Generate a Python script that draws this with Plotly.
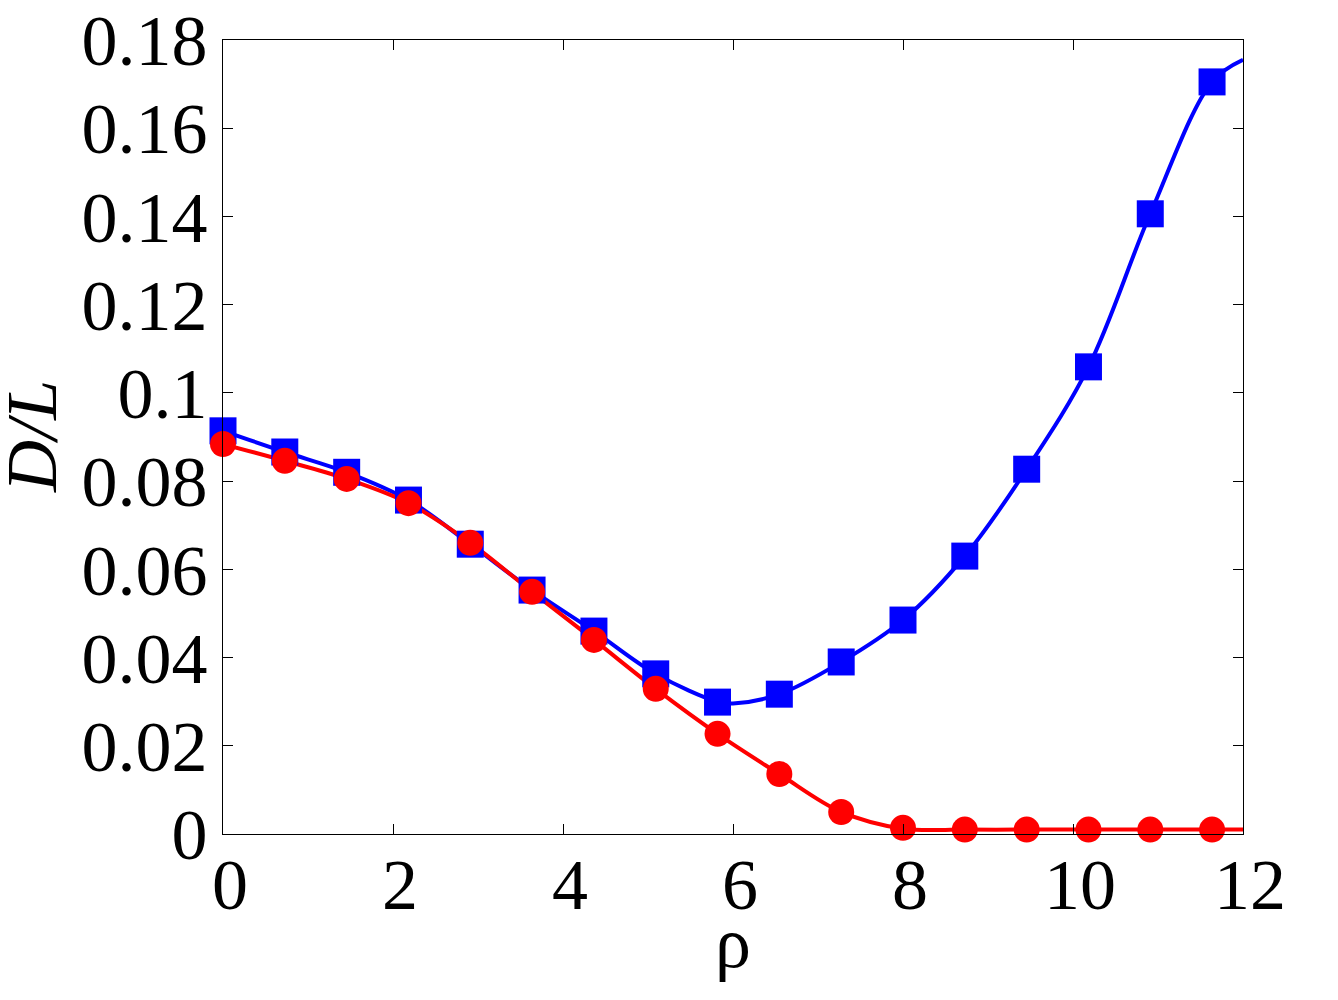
import plotly.graph_objects as go

# marker data
rho_pts = [0.0, 0.727, 1.455, 2.182, 2.909, 3.636, 4.364, 5.091, 5.818, 6.545,
           7.273, 8.0, 8.727, 9.455, 10.182, 10.909, 11.636]
blue_vals = [0.0914, 0.0866, 0.0820, 0.0757, 0.0657, 0.0553, 0.0460, 0.0363, 0.0299,
             0.0317, 0.0390, 0.0485, 0.0630, 0.0827, 0.1059, 0.1406, 0.1705]
red_vals = [0.0884, 0.0846, 0.0805, 0.0750, 0.0660, 0.0549, 0.0440, 0.0329, 0.0227,
            0.0136, 0.0050, 0.0014, 0.0010, 0.0010, 0.0010, 0.0010, 0.0010]

# smooth fit curves (extend to rho = 12)
blue_fit_x = [0.0, 0.727, 1.455, 2.182, 2.909, 3.636, 4.364, 5.091, 5.818, 6.0, 6.545,
              7.273, 8.0, 8.727, 9.455, 10.182, 10.909, 11.636, 12.0]
blue_fit_y = [0.0914, 0.0866, 0.0820, 0.0757, 0.0657, 0.0553, 0.0460, 0.0363, 0.0300, 0.0296,
              0.0317, 0.0390, 0.0485, 0.0630, 0.0827, 0.1059, 0.1406, 0.1705, 0.1755]
red_fit_x = [0.0, 0.727, 1.455, 2.182, 2.909, 3.636, 4.364, 5.091, 5.818, 6.545,
             7.273, 8.0, 8.727, 9.455, 10.182, 10.909, 11.636, 12.0]
red_fit_y = [0.0884, 0.0846, 0.0805, 0.0750, 0.0660, 0.0549, 0.0440, 0.0329, 0.0227,
             0.0136, 0.0050, 0.0012, 0.0010, 0.0010, 0.0010, 0.0010, 0.0010, 0.0010]

x_ticks = [0, 2, 4, 6, 8, 10, 12]
x_tick_text = ["0", "2", "4", "6", "8", "10", "12"]
y_ticks = [0, 0.02, 0.04, 0.06, 0.08, 0.1, 0.12, 0.14, 0.16, 0.18]
y_tick_text = ["0", "0.02", "0.04", "0.06", "0.08", "0.1", "0.12", "0.14", "0.16", "0.18"]

BLUE = "#0000FF"
RED = "#FF0000"
FONT = "Liberation Serif"

fig = go.Figure()
fig.add_trace(go.Scatter(x=blue_fit_x, y=blue_fit_y, mode="lines",
                         line=dict(color=BLUE, width=4, shape="spline", smoothing=1.0),
                         showlegend=False, hoverinfo="skip"))
fig.add_trace(go.Scatter(x=red_fit_x, y=red_fit_y, mode="lines",
                         line=dict(color=RED, width=4, shape="spline", smoothing=1.0),
                         showlegend=False, hoverinfo="skip"))
fig.add_trace(go.Scatter(x=rho_pts, y=blue_vals, mode="markers",
                         marker=dict(symbol="square", size=27, color=BLUE),
                         showlegend=False, cliponaxis=False))
fig.add_trace(go.Scatter(x=rho_pts, y=red_vals, mode="markers",
                         marker=dict(symbol="circle", size=26, color=RED),
                         showlegend=False, cliponaxis=False))

fig.update_layout(
    width=1338, height=1000,
    paper_bgcolor="white", plot_bgcolor="white",
    margin=dict(l=215, r=103, t=32, b=174),
    font=dict(family=FONT, size=72, color="black"),
    xaxis=dict(range=[0, 12], tickvals=x_ticks, ticktext=x_tick_text,
               ticks="inside", ticklen=10, tickwidth=1, tickcolor="black",
               showline=True, linecolor="black", linewidth=1, mirror="ticks",
               showgrid=False, zeroline=False, automargin=False,
               ticklabelstandoff=-12, ticklabelshift=7, ticklabeloverflow="allow",
               tickfont=dict(family=FONT, size=72)),
    yaxis=dict(range=[0, 0.18], tickvals=y_ticks, ticktext=y_tick_text,
               ticks="inside", ticklen=10, tickwidth=1, tickcolor="black",
               showline=True, linecolor="black", linewidth=1, mirror="ticks",
               showgrid=False, zeroline=False, automargin=False,
               ticklabeloverflow="allow",
               tickfont=dict(family=FONT, size=72)),
    annotations=[
        dict(text="ρ", xref="paper", yref="paper", x=0.5, y=0, yshift=-109,
             xanchor="center", yanchor="middle", showarrow=False,
             font=dict(family=FONT, size=72)),
        dict(text="<i>D/L</i>", xref="paper", yref="paper", x=0, y=0.5, xshift=-191,
             xanchor="center", yanchor="middle", textangle=-90, showarrow=False,
             font=dict(family=FONT, size=72)),
    ],
)

fig.write_html("out.html")
